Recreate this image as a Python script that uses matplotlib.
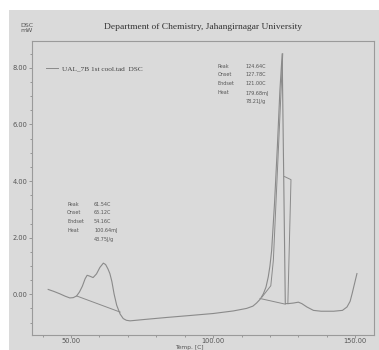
import numpy as np
import matplotlib.pyplot as plt
from matplotlib.patches import Rectangle
from matplotlib.ticker import MultipleLocator

# DSC 曲線 (温度 [C], 熱流 [mW])
temp = [42.0, 44.0, 46.0, 48.0, 49.6, 50.8, 52.0, 53.0, 54.0, 55.0, 55.7, 56.6,
        57.8, 59.0, 60.2, 61.4, 62.2, 63.0, 63.7, 64.4, 65.2, 66.1, 67.3, 68.4,
        69.5, 70.8, 76.0, 83.7, 92.0, 100.1, 107.1, 111.8, 114.0, 115.3, 116.6,
        117.7, 118.6, 119.4, 120.0, 120.6, 121.6, 122.6, 123.5, 124.3, 125.4,
        126.5, 128.3, 130.0, 131.2, 133.0, 135.3, 138.0, 142.4, 145.5, 147.1,
        148.2, 148.9, 150.6]
dsc = [0.17, 0.1, 0.02, -0.07, -0.13, -0.12, -0.06, 0.08, 0.28, 0.55, 0.67, 0.64,
       0.59, 0.72, 0.95, 1.1, 1.05, 0.9, 0.73, 0.45, 0.0, -0.39, -0.7, -0.86,
       -0.92, -0.94, -0.89, -0.82, -0.75, -0.68, -0.59, -0.5, -0.42, -0.31, -0.17,
       0.02, 0.25, 0.61, 1.0, 1.55, 3.2, 5.2, 7.2, 8.5, -0.33,
       -0.33, -0.31, -0.28, -0.33, -0.45, -0.57, -0.6, -0.6, -0.57, -0.45,
       -0.25, 0.02, 0.73]

# 解析線
base1_t = [52.0, 67.3]
base1_v = [-0.06, -0.63]
base2_t = [116.5, 125.4]
base2_v = [-0.15, -0.35]
tan_t = [117.2, 120.3, 121.2, 124.5]
tan_v = [-0.1, 0.3, 1.2, 8.5]
step_t = [125.1, 127.4, 126.3]
step_v = [4.16, 4.05, -0.33]

# ピーク情報
ann_keys = ['Peak', 'Onset', 'Endset', 'Heat', '']
ann1_vals = ['61.54C', '65.12C', '54.16C', '100.64mJ', '43.75J/g']
ann2_vals = ['124.64C', '127.78C', '121.00C', '179.68mJ', '78.21J/g']

W, H = 379, 350
fig = plt.figure(figsize=(W / 100, H / 100), dpi=100, facecolor='white')
fig.patches.append(Rectangle((9 / W, 0), 1 - 9 / W, 1 - 10 / H,
                             transform=fig.transFigure, facecolor='#dadada',
                             edgecolor='none', zorder=-10))

ax = fig.add_axes([31.7 / W, 1 - 335 / H, (374 - 31.7) / W, (335 - 41) / H])
ax.set_facecolor('#dadada')
ax.set_xlim(36.2, 156.6)
ax.set_ylim(-1.44, 8.95)

lc = '#8a8a8a'
ax.plot(temp, dsc, color=lc, lw=0.8)
ax.plot(base1_t, base1_v, color=lc, lw=0.7)
ax.plot(base2_t, base2_v, color=lc, lw=0.7)
ax.plot(tan_t, tan_v, color=lc, lw=0.7)
ax.plot(step_t, step_v, color=lc, lw=0.7)

for s in ax.spines.values():
    s.set_color('#9a9a9a')
    s.set_linewidth(0.8)

ax.xaxis.set_major_locator(MultipleLocator(50))
ax.xaxis.set_minor_locator(MultipleLocator(10))
ax.yaxis.set_major_locator(MultipleLocator(2))
ax.yaxis.set_minor_locator(MultipleLocator(0.5))
ax.xaxis.set_major_formatter(lambda v, p: f'{v:.2f}')
ax.yaxis.set_major_formatter(lambda v, p: f'{v:.2f}')
ax.tick_params(which='both', colors='#8a8a8a', labelcolor='#555555', labelsize=4.8,
               length=2, width=0.6, pad=1)
ax.tick_params(axis='x', pad=0.5)
ax.tick_params(which='minor', length=1.5)

fig.text(0.5, 1 - 347 / H, 'Temp. [C]', ha='center', va='center',
         fontsize=4.3, color='#555555')

# タイトル
fig.text(203 / W, 1 - 27 / H, 'Department of Chemistry, Jahangirnagar University',
         ha='center', va='center', family='Liberation Serif', fontsize=6.8, color='#333333')
fig.text(20 / W, 1 - 28 / H, 'DSC\nmW', ha='left', va='center', fontsize=4.5,
         color='#555555', linespacing=1.1)

# 凡例
ax.plot([41.2, 45.4], [7.98, 7.98], color=lc, lw=0.7)
ax.text(46.8, 7.98, 'UAL_7B 1st cool.tad  DSC', family='Liberation Serif',
        fontsize=5.2, color='#444444', va='center')

# ピーク注釈
rows1_y = [204, 212.7, 221.7, 230.5, 239]
rows2_y = [66, 74.7, 83.7, 93, 101.5]
for k, v, y in zip(ann_keys, ann1_vals, rows1_y):
    fig.text(67 / W, 1 - y / H, k, fontsize=3.5, color='#555555', va='center')
    fig.text(94 / W, 1 - y / H, v, fontsize=3.5, color='#555555', va='center')
for k, v, y in zip(ann_keys, ann2_vals, rows2_y):
    fig.text(218 / W, 1 - y / H, k, fontsize=3.5, color='#555555', va='center')
    fig.text(245.5 / W, 1 - y / H, v, fontsize=3.5, color='#555555', va='center')

fig.savefig('out.png', dpi=100, facecolor='white')
